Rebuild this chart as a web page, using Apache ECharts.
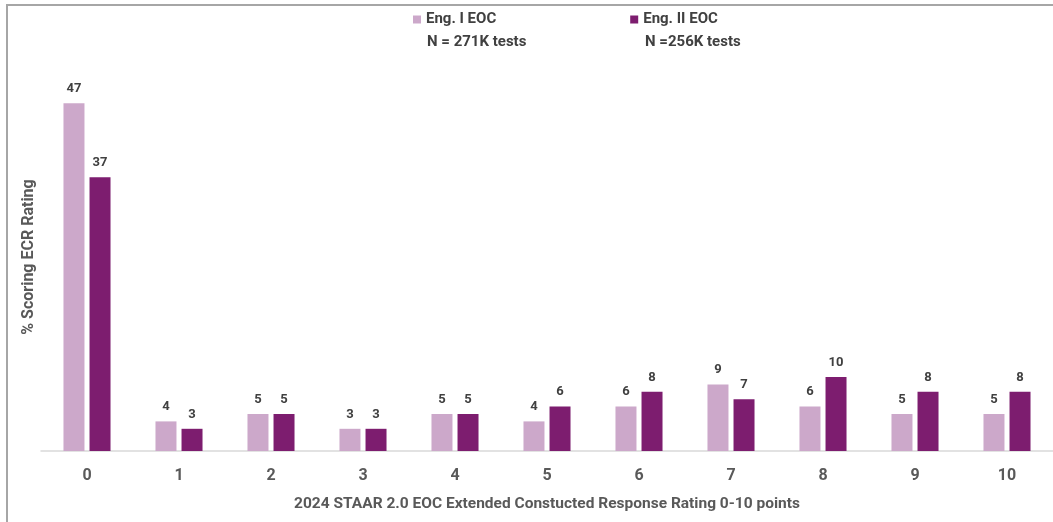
<!DOCTYPE html>
<html><head><meta charset="utf-8">
<script src="https://cdn.jsdelivr.net/npm/echarts@6/dist/echarts.min.js"></script>
<style>html,body{margin:0;padding:0;background:#fff}#c{width:1053px;height:522px}</style>
</head><body><div id="c"></div>
<script>
const categories = ['0','1','2','3','4','5','6','7','8','9','10'];
const eng1 = [47,4,5,3,5,4,6,9,6,5,5];
const eng2 = [37,3,5,3,5,6,8,7,10,8,8];
const seriesNames = ['Eng. I EOC','Eng. II EOC'];
const seriesNotes = ['N = 271K tests','N =256K tests'];
const xTitle = '2024 STAAR 2.0 EOC Extended Constucted Response Rating 0-10 points';
const yTitle = '% Scoring ECR Rating';

const FONT = '"Roboto", sans-serif';
const chart = echarts.init(document.getElementById('c'));
const lbl = {show:true, position:'top', distance:8, color:'#404040', fontWeight:'bold', fontSize:13, fontFamily:FONT};
chart.setOption({
  animation:false,
  graphic:[
    {type:'rect', shape:{x:7,y:5,width:1060,height:530}, style:{fill:'none', stroke:'#a6a6a6', lineWidth:2}, z:-1},
    {type:'text', left:427, top:35, style:{text:seriesNotes[0], fill:'#404040', font:'bold 15px '+FONT}},
    {type:'text', left:645, top:35, style:{text:seriesNotes[1], fill:'#404040', font:'bold 15px '+FONT}},
    {type:'text', x:29, y:257, rotation:Math.PI/2, style:{text:yTitle, fill:'#595959', font:'bold 16px '+FONT, align:'center', verticalAlign:'middle'}}
  ],
  legend:{
    data:seriesNames, top:7, left:408, itemGap:134, itemWidth:8, itemHeight:8, icon:'rect',
    textStyle:{color:'#404040', fontWeight:'bold', fontSize:15, fontFamily:FONT}
  },
  grid:{left:41, right:-4, top:81, bottom:71},
  xAxis:{
    type:'category', data:categories,
    axisLine:{lineStyle:{color:'#d9d9d9', width:1.5}},
    axisTick:{show:false},
    axisLabel:{color:'#595959', fontSize:16, fontWeight:'bold', fontFamily:FONT, margin:17},
    name:xTitle, nameLocation:'middle', nameGap:45,
    nameTextStyle:{color:'#595959', fontSize:15.5, fontWeight:'bold', fontFamily:FONT}
  },
  yAxis:{
    type:'value', min:0, max:50,
    axisLine:{show:false}, axisTick:{show:false}, axisLabel:{show:false}, splitLine:{show:false}
  },
  series:[
    {name:seriesNames[0], type:'bar', data:eng1, barWidth:21, barGap:'24%', itemStyle:{color:'#cca8ca'}, label:lbl},
    {name:seriesNames[1], type:'bar', data:eng2, barWidth:21, barGap:'24%', itemStyle:{color:'#7d1d6f'}, label:lbl}
  ]
});
</script></body></html>
